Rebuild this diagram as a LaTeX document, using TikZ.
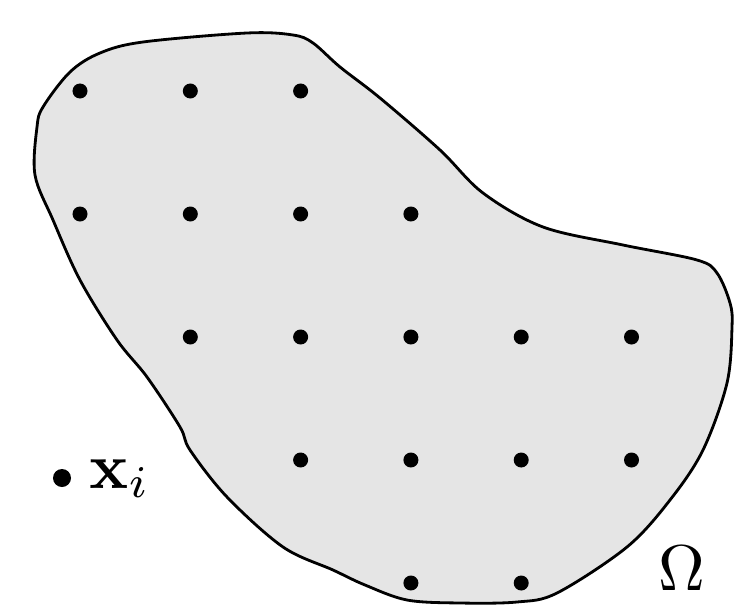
\documentclass[tikz,border=0pt]{standalone}
\usepackage{amsmath}
\usepackage{amssymb}
\tikzset{
  griddot/.style={circle, fill=black, inner sep=0pt, minimum size=0.375cm},
  regionshape/.style={fill=black!10, draw=black, line width=2pt, line join=round},
  biglabel/.style={anchor=base west, inner sep=0pt, scale=4.6},
}

\begin{document}
\begin{tikzpicture}[x=0.025cm, y=-0.025cm]
    \useasboundingbox (0,0) rectangle (734,604);

    % the region
    \draw[regionshape] plot[smooth cycle, tension=0.55] coordinates {
      (293,35) (313,43) (340,67) (380,98) (440,150) (483,193) (543,227)
      (623,245) (697,260) (717,273) (730,303) (732,327) (727,383)
      (703,450) (670,500) (627,547) (557,593) (517,602) (460,603)
      (407,600) (365,585) (333,570) (283,547) (227,497) (190,450)
      (180,427) (147,377) (117,340) (80,280) (53,220) (35,175)
      (37,127) (43,107) (70,72) (100,53) (143,42) (247,33)};

    % the nodes inside
    \foreach \r/\klist in {0/{0,1,2}, 1/{0,1,2,3}, 2/{1,2,3,4,5}, 3/{2,3,4,5}, 4/{3,4}}
      \foreach \k in \klist
        \node[griddot] (p-\r-\k) at ({80+110.3*\k},{91+123*\r}) {};

    \node[griddot, minimum size=0.45cm] (xi) at (62,478) {};
    \node[biglabel] (xilabel) at (88,488) {$\mathbf{x}_i$};
    \node[biglabel] (omega) at (657,590) {$\Omega$};
\end{tikzpicture}
\end{document}
